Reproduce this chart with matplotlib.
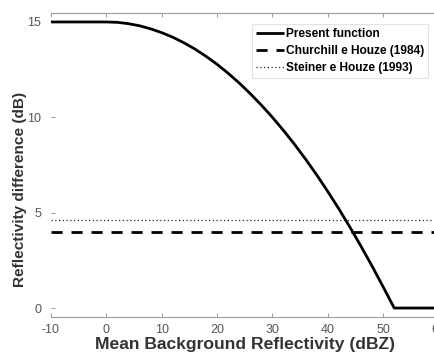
import matplotlib
matplotlib.use("Agg")
import matplotlib.pyplot as plt

# Data
zbg = [-10, 0, 2, 4, 6, 8, 10, 12, 14, 16, 18, 20, 22, 24, 26, 28, 30, 32, 34,
       36, 38, 40, 42, 44, 46, 48, 50, 52, 60]
delta_present = [15.0, 15.0, 14.98, 14.91, 14.80, 14.64, 14.44, 14.20, 13.91, 13.58,
                 13.20, 12.78, 12.31, 11.80, 11.24, 10.64, 10.00, 9.31, 8.58,
                 7.80, 6.98, 6.11, 5.20, 4.24, 3.24, 2.20, 1.11, 0.0, 0.0]
churchill_level = 4.0
steiner_level = 4.6
x_range = [-10, 60]
xticks = [-10, 0, 10, 20, 30, 40, 50, 60]
yticks = [0, 5, 10, 15]
labels = ["Present function", "Churchill e Houze (1984)", "Steiner e Houze (1993)"]

plt.rcParams['font.family'] = ['Liberation Sans', 'DejaVu Sans']
plt.rcParams['axes.unicode_minus'] = False

fig = plt.figure(figsize=(4.35, 3.59), dpi=100)
ax = fig.add_axes([51/435, 42/359, (438.5-51)/435, (317-13)/359])

ax.plot(zbg, delta_present, color='black', lw=2.0, solid_capstyle='butt',
        label=labels[0])
ax.plot(x_range, [churchill_level]*2, color='black', lw=2.0,
        linestyle=(0, (4.0, 3.2)), label=labels[1])
ax.plot(x_range, [steiner_level]*2, color='#222222', lw=0.9,
        linestyle=(0, (1, 2)), label=labels[2])

ax.set_xlim(-10, 60)
ax.set_ylim(-0.47, 15.47)
ax.set_xticks(xticks)
ax.set_yticks(yticks)
ax.tick_params(axis='both', direction='in', length=3, colors='#9a9a9a',
               labelcolor='#555555', labelsize=9, width=0.7,
               top=True, right=True)
ax.tick_params(axis='y', pad=7)
ax.tick_params(axis='x', pad=5)
for side in ['top', 'bottom', 'right']:
    ax.spines[side].set_color('#9a9a9a')
    ax.spines[side].set_linewidth(0.8)
ax.spines['left'].set_visible(False)

ax.set_xlabel("Mean Background Reflectivity (dBZ)", fontsize=12.6, fontweight='bold',
              color='#333333', labelpad=1)
ax.set_ylabel("Reflectivity difference (dB)", fontsize=11.1, fontweight='bold',
              color='#333333', va='center')
ax.yaxis.set_label_coords((20 - 51) / 387.5, (317 - 189) / 304)

leg = ax.legend(loc='upper right', bbox_to_anchor=(428/435, (359-24)/359),
                bbox_transform=fig.transFigure, prop={'weight': 'bold', 'size': 8.6},
                frameon=True, fancybox=False, handlelength=2.3, handletextpad=0.15,
                borderpad=0.35, labelspacing=0.42, borderaxespad=0)
leg.get_frame().set_edgecolor('#dddddd')
leg.get_frame().set_linewidth(0.8)

fig.savefig("out.png", dpi=100)
